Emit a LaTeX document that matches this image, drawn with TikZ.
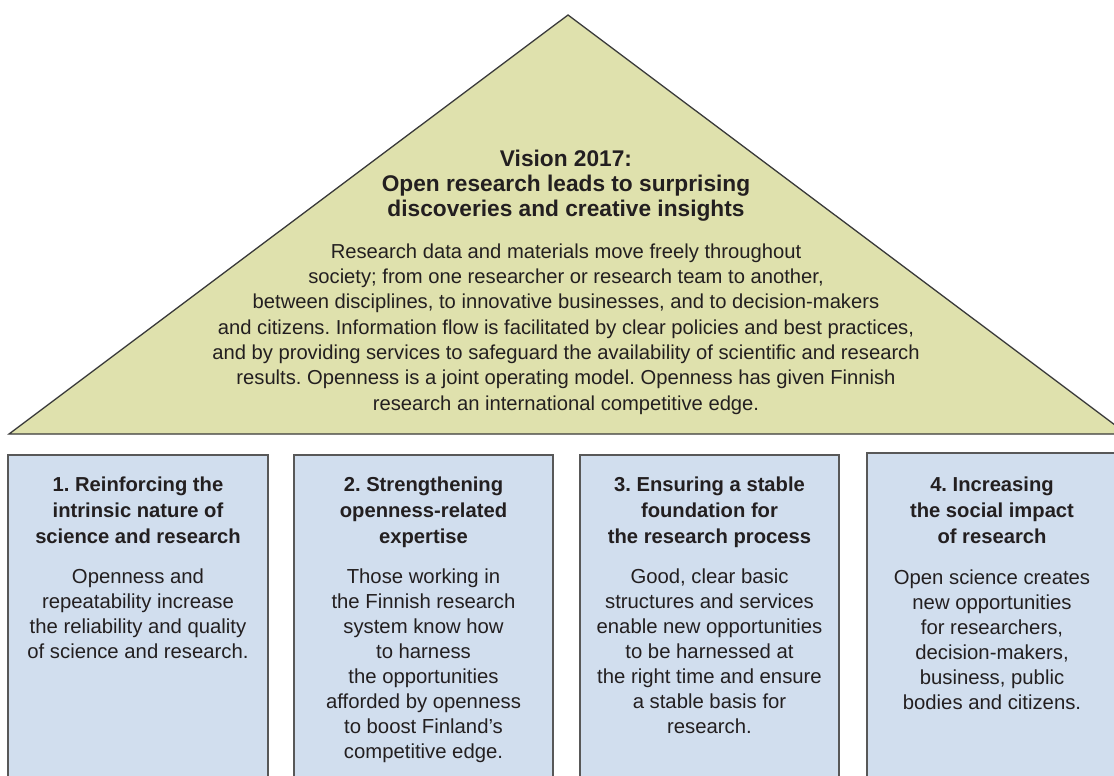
\documentclass[tikz,border=0pt]{standalone}
\usepackage{fontspec}
\setmainfont{Liberation Sans}
\frenchspacing
\definecolor{roofc}{HTML}{DFE1AD}
\definecolor{boxc}{HTML}{D1DEEE}
\definecolor{linec}{HTML}{3A3A3A}
\definecolor{txtc}{HTML}{231F20}
\begin{document}
\begin{tikzpicture}[x=1pt,y=-1pt,
  roof/.style={fill=roofc,draw=linec,line width=1.3pt,line join=miter},
  pillar/.style={fill=boxc,draw=linec!85,line width=1.3pt},
  ttl/.style={anchor=base,align=center,inner sep=0pt,text=txtc,font=\fontsize{22.7}{24.7}\selectfont\bfseries},
  body/.style={anchor=base,align=center,inner sep=0pt,text=txtc,font=\fontsize{20.2}{25.3}\selectfont},
  bttl/.style={anchor=base,align=center,inner sep=0pt,text=txtc,font=\fontsize{20.2}{25.8}\selectfont\bfseries},
  bbody/.style={anchor=base,align=center,inner sep=0pt,text=txtc,font=\fontsize{20.3}{25}\selectfont}]
\clip (0,0) rectangle (1114,776);
\fill[white] (0,0) rectangle (1114,776);
% roof
\draw[roof] (568,15) coordinate (apex) -- (1127,434) coordinate (rr) -- (9,434) coordinate (rl) -- cycle;
% anchor=base sits on the LAST line's baseline
\node[ttl] (vt) at (566,216.1) {Vision 2017:\\Open research leads to surprising\\discoveries and creative insights};
\node[body] (vb) at (566,410.1) {Research data and materials move freely throughout\\society; from one researcher or research team to another,\\between disciplines, to innovative businesses, and to decision-makers\\and citizens. Information flow is facilitated by clear policies and best practices,\\and by providing services to safeguard the availability of scientific and research\\results. Openness is a joint operating model. Openness has given Finnish\\research an international competitive edge.};
% pillars
\draw[pillar] (8,455) rectangle (268,800);
\draw[pillar] (294,455) rectangle (553,800);
\draw[pillar] (580,455) rectangle (839,800);
\draw[pillar] (867,453) rectangle (1117,800);
\node[bttl] (t1) at (138,543.3) {1. Reinforcing the\\intrinsic nature of\\science and research};
\node[bbody] (b1) at (138,658.3) {Openness and\\repeatability increase\\the reliability and quality\\of science and research.};
\node[bttl] (t2) at (423.5,543.3) {2. Strengthening\\openness-related\\expertise};
\node[bbody] (b2) at (423.5,758.3) {Those working in\\the Finnish research\\system know how\\to harness\\the opportunities\\afforded by openness\\to boost Finland’s\\competitive edge.};
\node[bttl] (t3) at (709.5,543.3) {3. Ensuring a stable\\foundation for\\the research process};
\node[bbody] (b3) at (709.5,733.3) {Good, clear basic\\structures and services\\enable new opportunities\\to be harnessed at\\the right time and ensure\\a stable basis for\\research.};
\node[bttl] (t4) at (992,543.3) {4. Increasing\\the social impact\\of research};
\node[bbody] (b4) at (992,709.3) {Open science creates\\new opportunities\\for researchers,\\decision-makers,\\business, public\\bodies and citizens.};
\end{tikzpicture}
\end{document}
